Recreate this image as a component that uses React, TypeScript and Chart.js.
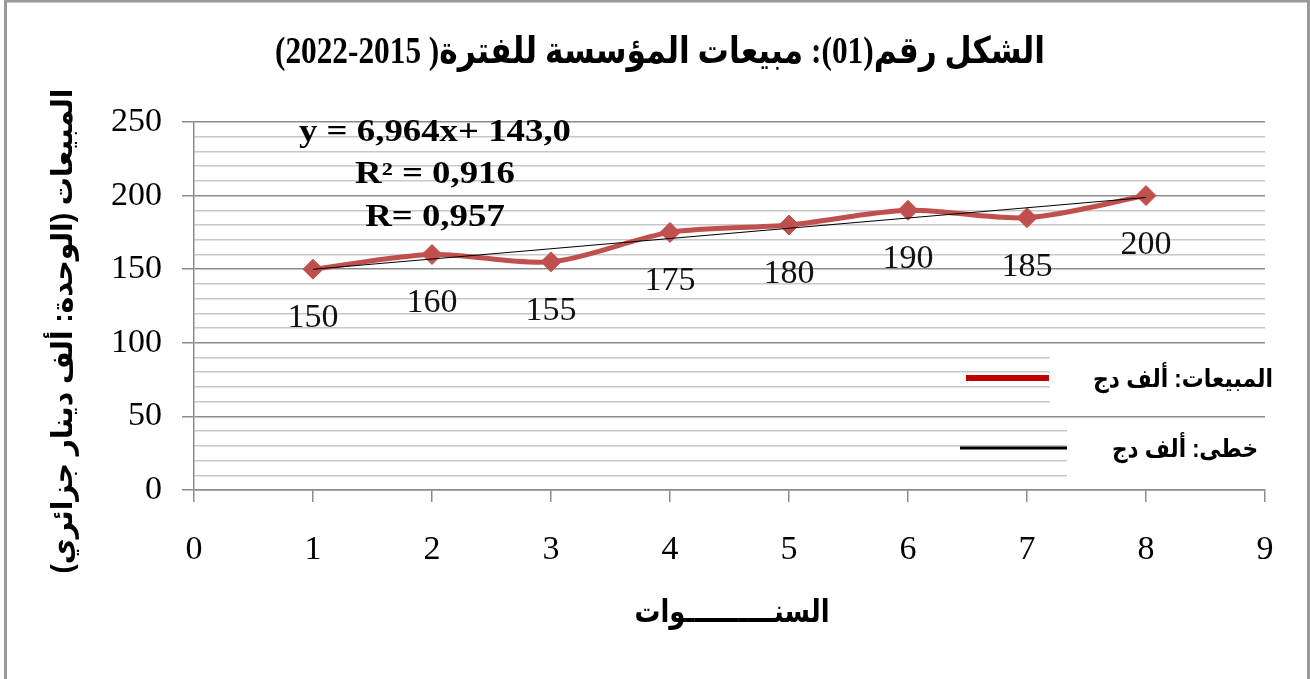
import React, { useEffect, useRef } from "react";
import { Chart, registerables } from "chart.js";

Chart.register(...registerables);

// ---- data ----
const years = [1, 2, 3, 4, 5, 6, 7, 8];
const sales = [150, 160, 155, 175, 180, 190, 185, 200];
const trendX = [1, 8];
const trendY = [149.96, 198.71];
const xMin = 0;
const xMax = 9;
const yMin = 0;
const yMax = 250;
const yMajorStep = 50;
const yMinorStep = 10;

const titleText = "الشكل رقم(01): مبيعات المؤسسة للفترة( 2015-2022)";
const yTitleText = "المبيعات (الوحدة: ألف دينار جزائري)";
const xTitleText = "السنــــــــــوات";
const equationLines = ["y = 6,964x+ 143,0", "R² = 0,916", "R= 0,957"];
const legendLabels = ["المبيعات: ألف دج", "خطى: ألف دج"];

const SERIF = "'Liberation Serif', 'Times New Roman', serif";
const AR_SANS = "'Liberation Sans', 'DejaVu Sans', sans-serif";

function drawFit(
  ctx: CanvasRenderingContext2D,
  text: string,
  cx: number,
  cy: number,
  font: string,
  targetW: number,
  rtl: boolean,
  rotate = 0
) {
  ctx.save();
  ctx.font = font;
  (ctx as any).direction = rtl ? "rtl" : "ltr";
  ctx.textAlign = "center";
  ctx.textBaseline = "middle";
  ctx.fillStyle = "#000";
  const w = ctx.measureText(text).width;
  ctx.translate(cx, cy);
  if (rotate) ctx.rotate(rotate);
  ctx.scale(targetW / w, 1);
  ctx.fillText(text, 0, 0);
  ctx.restore();
}

const decoPlugin = {
  id: "deco",
  beforeDatasetsDraw(chart: any) {
    const ctx = chart.ctx as CanvasRenderingContext2D;
    ctx.save();
    ctx.fillStyle = "#ffffff";
    ctx.fillRect(1050, 348, 230, 63);
    ctx.fillRect(1067, 421, 213, 64);
    ctx.restore();
  },
  afterDatasetsDraw(chart: any) {
    const ctx = chart.ctx as CanvasRenderingContext2D;
    const meta = chart.getDatasetMeta(1);
    ctx.save();
    ctx.font = `34px ${SERIF}`;
    ctx.fillStyle = "#111";
    ctx.textAlign = "center";
    ctx.textBaseline = "middle";
    meta.data.forEach((pt: any, i: number) => {
      ctx.fillText(String(sales[i]), pt.x, pt.y + 49);
    });
    ctx.restore();
  },
  afterDraw(chart: any) {
    const ctx = chart.ctx as CanvasRenderingContext2D;
    // outer border
    ctx.save();
    ctx.strokeStyle = "#9a9a9a";
    ctx.lineWidth = 3;
    ctx.beginPath();
    ctx.moveTo(5.5, 700);
    ctx.lineTo(5.5, 1);
    ctx.lineTo(1308.5, 1);
    ctx.lineTo(1308.5, 700);
    ctx.stroke();
    ctx.restore();

    // title
    drawFit(ctx, titleText, 660, 53, `bold 37px ${SERIF}, 'DejaVu Sans'`, 770, true);
    // y axis title
    drawFit(ctx, yTitleText, 64, 331, `bold 29px ${AR_SANS}`, 485, true, -Math.PI / 2);
    // x axis title
    drawFit(ctx, xTitleText, 732, 613, `bold 32px ${AR_SANS}`, 195, true);

    // equation
    ctx.save();
    ctx.font = `bold 31px ${SERIF}`;
    const w0 = ctx.measureText(equationLines[0]).width;
    ctx.restore();
    const sx = 272 / w0;
    const eqY = [133, 175, 218];
    equationLines.forEach((line, i) => {
      ctx.save();
      ctx.font = `bold 31px ${SERIF}`;
      const w = ctx.measureText(line).width;
      ctx.restore();
      drawFit(ctx, line, 435, eqY[i], `bold 31px ${SERIF}`, w * sx, false);
    });

    // legend
    ctx.save();
    ctx.strokeStyle = "#C00000";
    ctx.lineWidth = 6;
    ctx.beginPath();
    ctx.moveTo(966, 378);
    ctx.lineTo(1049, 378);
    ctx.stroke();
    ctx.strokeStyle = "#000";
    ctx.lineWidth = 3;
    ctx.beginPath();
    ctx.moveTo(960, 448);
    ctx.lineTo(1067, 448);
    ctx.stroke();
    ctx.restore();
    drawFit(ctx, legendLabels[0], 1183, 380, `bold 25px ${AR_SANS}`, 180, true);
    drawFit(ctx, legendLabels[1], 1185, 450, `bold 25px ${AR_SANS}`, 146, true);
  },
};

export default function App() {
  const ref = useRef<HTMLCanvasElement>(null);
  useEffect(() => {
    if (!ref.current) return;
    const chart = new Chart(ref.current, {
      type: "line",
      data: {
        datasets: [
          {
            label: "خطى: ألف دج",
            data: trendX.map((x, i) => ({ x, y: trendY[i] })),
            borderColor: "#000000",
            borderWidth: 1.2,
            pointRadius: 0,
            tension: 0,
            order: 0,
          },
          {
            label: "المبيعات: ألف دج",
            data: years.map((x, i) => ({ x, y: sales[i] })),
            borderColor: "#C0504D",
            backgroundColor: "#C0504D",
            borderWidth: 5,
            pointStyle: "rectRot",
            pointRadius: 10,
            pointBorderWidth: 1,
            pointBorderColor: "#C0504D",
            pointBackgroundColor: "#C0504D",
            tension: 0.3,
            order: 1,
          },
        ],
      },
      options: {
        responsive: false,
        animation: false,
        layout: { padding: { top: 122, right: 45, bottom: 0, left: 0 } },
        plugins: {
          legend: { display: false },
          tooltip: { enabled: false },
          title: { display: false },
        },
        scales: {
          x: {
            type: "linear",
            min: xMin,
            max: xMax,
            ticks: {
              stepSize: 1,
              font: { family: SERIF, size: 34 },
              color: "#000",
              padding: 28,
            },
            grid: {
              drawOnChartArea: false,
              tickLength: 12,
              color: "#8c8c8c",
              lineWidth: 1.5,
            },
            border: { color: "#8c8c8c", width: 1.5 },
            afterFit(s: any) {
              s.height = 189;
            },
          },
          y: {
            type: "linear",
            min: yMin,
            max: yMax,
            ticks: {
              stepSize: yMinorStep,
              autoSkip: false,
              callback: (v: any) => (Number(v) % yMajorStep === 0 ? String(v) : ""),
              font: { family: SERIF, size: 34 },
              color: "#000",
              padding: 20,
            },
            grid: {
              color: (c: any) =>
                c.tick && c.tick.value % yMajorStep === 0 ? "#8c8c8c" : "#c8c8c8",
              tickColor: (c: any) =>
                c.tick && c.tick.value % yMajorStep === 0 ? "#8c8c8c" : "rgba(0,0,0,0)",
              tickLength: 12,
              lineWidth: 1.5,
            },
            border: { color: "#8c8c8c", width: 1.5 },
            afterFit(s: any) {
              s.width = 194;
            },
          },
        },
      },
      plugins: [decoPlugin],
    } as any);
    return () => chart.destroy();
  }, []);
  return (
    <canvas
      ref={ref}
      width={1310}
      height={679}
      style={{ position: "fixed", left: 0, top: 0, width: 1310, height: 679 }}
    />
  );
}
